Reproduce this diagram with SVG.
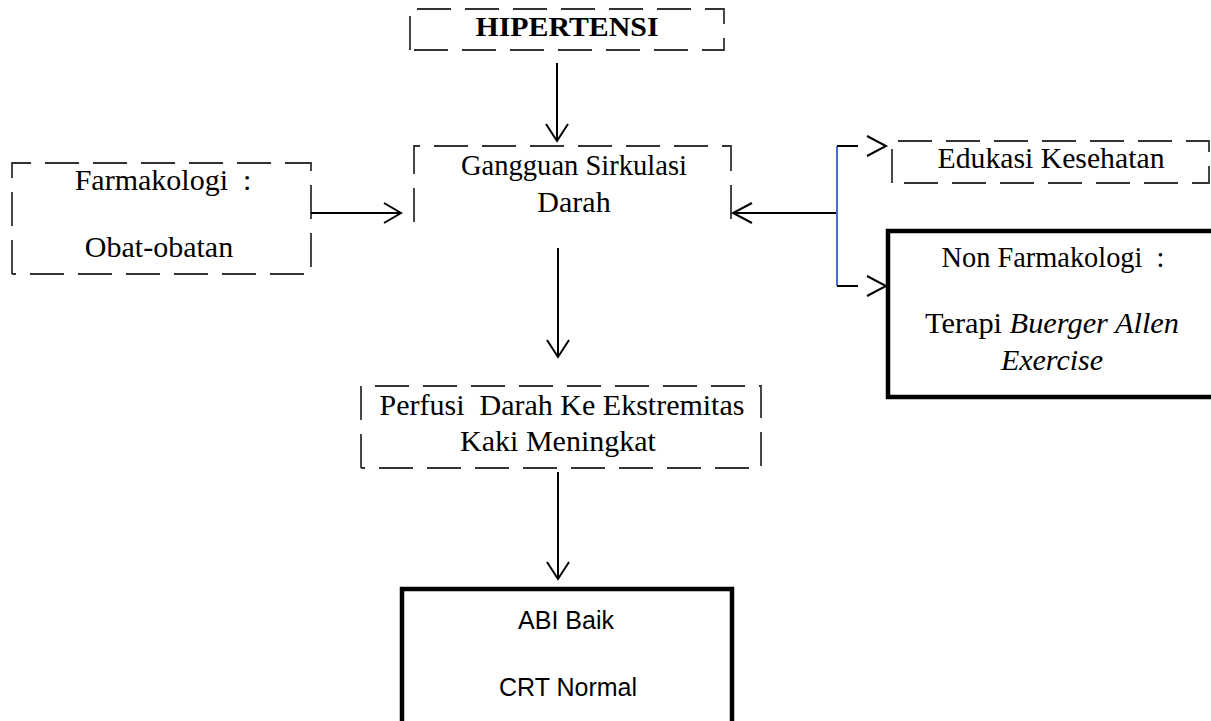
<svg xmlns="http://www.w3.org/2000/svg" width="1211" height="721" viewBox="0 0 1211 721">
<style>
.dash{fill:none;stroke:#333;stroke-width:1.8;stroke-dasharray:34 14}
.solid{fill:none;stroke:#000;stroke-width:4.5}
.t{font-family:"Liberation Serif","Times New Roman",serif;font-size:30px;fill:#000;text-anchor:middle}
.b{font-weight:bold;font-size:28px}
.s{font-family:"Liberation Sans",Arial,sans-serif;font-size:25px;fill:#000;text-anchor:middle}
.ln{fill:none;stroke:#000;stroke-width:2}
</style>
<rect width="1211" height="721" fill="#fff"/>
<g id="hipertensi">
<path class="dash" d="M410,50 L410,9 L724,9 L724,50 L410,50"/>
<text class="t b" x="567" y="36" textLength="183" lengthAdjust="spacingAndGlyphs">HIPERTENSI</text>
</g>
<g id="gangguan">
<path class="dash" d="M414,222 L414,146 L731,146 L731,222"/>
<text class="t" x="574" y="175" textLength="226" lengthAdjust="spacingAndGlyphs">Gangguan Sirkulasi</text>
<text class="t" x="574" y="212">Darah</text>
</g>
<g id="farmakologi">
<path class="dash" d="M12,274 L12,163 L311,163 L311,274 L12,274"/>
<text class="t" x="163" y="190" xml:space="preserve">Farmakologi  :</text>
<text class="t" x="159" y="257">Obat-obatan</text>
</g>
<g id="edukasi">
<path class="dash" d="M892,183 L892,141 L1209,141 L1209,183 L892,183"/>
<text class="t" x="1051" y="168" textLength="227" lengthAdjust="spacingAndGlyphs">Edukasi Kesehatan</text>
</g>
<g id="nonfarmakologi">
<rect class="solid" x="888" y="231" width="340" height="166"/>
<text class="t" x="1053" y="267" textLength="223" lengthAdjust="spacingAndGlyphs" xml:space="preserve">Non Farmakologi  :</text>
<text class="t" x="1052" y="333" textLength="254" lengthAdjust="spacingAndGlyphs">Terapi <tspan font-style="italic">Buerger Allen</tspan></text>
<text class="t" x="1052" y="370" font-style="italic">Exercise</text>
</g>
<g id="perfusi">
<path class="dash" d="M361,468 L361,386 L761,386 L761,468 L361,468"/>
<text class="t" x="562" y="415" xml:space="preserve">Perfusi  Darah Ke Ekstremitas</text>
<text class="t" x="558" y="451">Kaki Meningkat</text>
</g>
<g id="hasil">
<rect class="solid" x="402" y="589" width="330" height="160"/>
<text class="s" x="566" y="629">ABI Baik</text>
<text class="s" x="568" y="696">CRT Normal</text>
</g>
<g id="connectors">
<path class="ln" d="M557,63 L557,141 M546,124 L557,141 L568,124"/>
<path class="ln" d="M558,248 L558,357 M547,340 L558,357 L569,340"/>
<path class="ln" d="M558,472 L558,579 M547,562 L558,579 L569,562"/>
<path class="ln" d="M311,213 L401,213 M384,203 L401,213 L384,223"/>
<path class="ln" d="M837,213 L733,213 M752,203 L733,213 L752,223"/>
<path d="M837,146 L837,286" fill="none" stroke="#4472C4" stroke-width="2"/>
<path class="ln" stroke-width="2.5" d="M837,146 L858,146 M867,136 L886,146 L867,156"/>
<path class="ln" stroke-width="2.5" d="M837,286 L858,286 M867,276 L886,286 L867,296"/>
</g>
</svg>
